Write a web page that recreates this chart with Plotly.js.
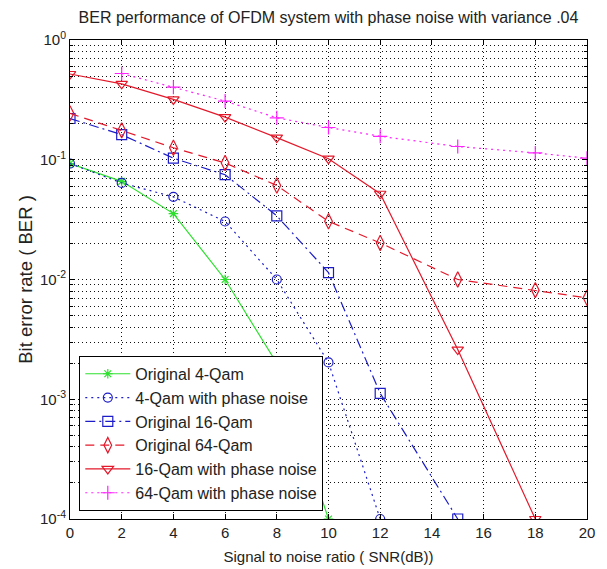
<!DOCTYPE html>
<html>
<head>
<meta charset="utf-8">
<script src="https://cdn.plot.ly/plotly-3.0.1.min.js"></script>
<style>html,body{margin:0;padding:0;background:#fff;}#chart{width:607px;height:569px;}</style>
</head>
<body>
<div id="chart"></div>
<script>
// SNR values (dB)
const snr4 = [0, 2, 4, 6, 8, 10];
const ber4 = [0.093, 0.066, 0.0355, 0.01, 0.002, 0.0001];

const snr4pn = [0, 2, 4, 6, 8, 10, 12];
const ber4pn = [0.093, 0.064, 0.049, 0.0305, 0.01, 0.00203, 0.0001];

const snr16 = [0, 2, 4, 6, 8, 10, 12, 15];
const ber16 = [0.221, 0.162, 0.103, 0.075, 0.034, 0.0114, 0.00112, 0.0001];

const snr64 = [0, 2, 4, 6, 8, 10, 12, 15, 18, 20];
const ber64 = [0.244, 0.176, 0.126, 0.094, 0.061, 0.0306, 0.0202, 0.01, 0.00815, 0.00703];

const snr16pn = [0, 2, 4, 6, 8, 10, 12, 15, 18];
const ber16pn = [0.52, 0.43, 0.319, 0.227, 0.153, 0.102, 0.052, 0.0026, 0.0001];

const snr64pn = [2, 4, 6, 8, 10, 12, 15, 18, 20];
const ber64pn = [0.525, 0.404, 0.309, 0.224, 0.186, 0.157, 0.129, 0.114, 0.103];

const names = ['Original 4-Qam', '4-Qam with phase noise', 'Original 16-Qam',
  'Original 64-Qam', '16-Qam with phase noise', '64-Qam with phase noise'];

const yTickVals = [1e-4, 1e-3, 1e-2, 1e-1, 1];
const yTickText = ['10<sup>-4</sup>', '10<sup>-3</sup>', '10<sup>-2</sup>', '10<sup>-1</sup>', '10<sup>0</sup>'];

const minorVals = [];
for (let e = -4; e < 0; e++) for (let m = 2; m <= 9; m++) minorVals.push(m * Math.pow(10, e));

const green = '#2ee02e', blue = '#1c1cc8', red = '#e3192b', magenta = '#ff22ff';

function tr(x, y, name, color, dash, symbol, msize) {
  return {
    x: x, y: y, name: name, type: 'scatter', mode: 'lines+markers',
    line: {color: color, width: 1.2, dash: dash},
    marker: {symbol: symbol, size: msize, color: color, line: {color: color, width: 1.2}}
  };
}

const data = [
  tr(snr4, ber4, names[0], green, 'solid', 'asterisk-open', 8),
  tr(snr4pn, ber4pn, names[1], blue, '2px,4px', 'circle-open', 9),
  tr(snr16, ber16, names[2], blue, '10px,4px,2px,4px', 'square-open', 10),
  tr(snr64, ber64, names[3], red, '9px,6px', 'diamond-tall-open', 11),
  tr(snr16pn, ber16pn, names[4], red, 'solid', 'triangle-down-open', 10),
  tr(snr64pn, ber64pn, names[5], magenta, '2px,4px', 'cross-thin-open', 10)
];

const gridDash = '1px,3px';
const gridCol = '#111';

const layout = {
  width: 607, height: 569,
  margin: {l: 70, r: 20, t: 40, b: 50},
  paper_bgcolor: '#fff', plot_bgcolor: '#fff',
  font: {family: 'Liberation Sans, Arial, sans-serif', size: 14, color: '#222'},
  showlegend: true,
  title: {text: 'BER performance of OFDM system with phase noise with variance .04',
    font: {size: 16, color: '#222'}, x: 0.5, xref: 'paper', y: 0.97, yref: 'container', yanchor: 'middle'},
  xaxis: {
    range: [0, 20], dtick: 2, tick0: 0,
    showline: true, linecolor: '#000', linewidth: 1, mirror: 'allticks',
    ticks: 'inside', ticklen: 5, tickcolor: '#000',
    showgrid: true, gridcolor: gridCol, griddash: gridDash, gridwidth: 1,
    zeroline: false,
    title: {text: 'Signal to noise ratio ( SNR(dB))', font: {size: 15}, standoff: 11},
    tickfont: {size: 15}
  },
  yaxis: {
    type: 'log', range: [-4, 0],
    tickmode: 'array', tickvals: yTickVals, ticktext: yTickText,
    showline: true, linecolor: '#000', linewidth: 1, mirror: 'allticks',
    ticks: 'inside', ticklen: 5, tickcolor: '#000',
    showgrid: true, gridcolor: gridCol, griddash: gridDash, gridwidth: 1,
    zeroline: false,
    minor: {tickmode: 'array', tickvals: minorVals, ticks: 'inside', ticklen: 3, tickcolor: '#000',
      showgrid: true, gridcolor: gridCol, griddash: gridDash, gridwidth: 1},
    title: {text: 'Bit error rate ( BER )', font: {size: 18.5}, standoff: 2},
    tickfont: {size: 15}
  },
  legend: {
    x: 0.018, y: 0.017, xanchor: 'left', yanchor: 'bottom',
    bgcolor: '#fff', bordercolor: '#000', borderwidth: 1,
    font: {size: 16, color: '#222'}, tracegroupgap: 0, itemwidth: 45
  }
};

Plotly.newPlot('chart', data, layout, {displayModeBar: false, staticPlot: true});
</script>
</body>
</html>
